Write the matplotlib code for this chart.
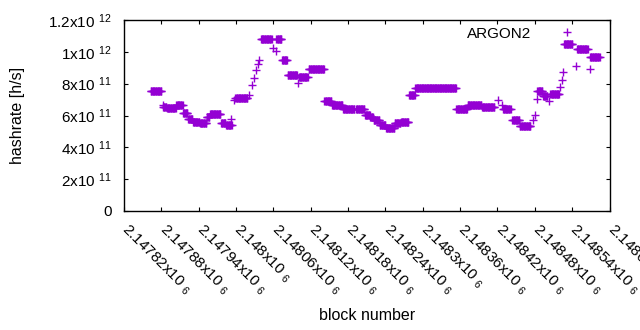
import numpy as np
import matplotlib
matplotlib.use('Agg')
import matplotlib.pyplot as plt
from matplotlib.ticker import FixedLocator, FixedFormatter

plt.rcParams['font.family'] = ['Liberation Sans', 'DejaVu Sans']
plt.rcParams['mathtext.fontset'] = 'custom'
plt.rcParams['mathtext.rm'] = 'Liberation Sans'
plt.rcParams['mathtext.default'] = 'regular'

# -----------------------------------------------------------------------
# Data (hashrate in units of 1e11 h/s)
# runs: consecutive blocks with the same hashrate [start, end)
# -----------------------------------------------------------------------
RUN_START = [2147863, 2147883, 2147889, 2147904, 2147915, 2147923, 2147931,
             2147942, 2147953, 2147958, 2147976, 2147984, 2147999, 2148040,
             2148065, 2148074, 2148083, 2148101, 2148117, 2148142, 2148154,
             2148172, 2148193, 2148207, 2148216, 2148221, 2148231, 2148241,
             2148255, 2148265, 2148278, 2148288, 2148354, 2148372, 2148395,
             2148429, 2148444, 2148456, 2148484, 2148493, 2148505, 2148527,
             2148548, 2148569]
RUN_END = [2147881, 2147889, 2147904, 2147915, 2147923, 2147931, 2147942,
           2147953, 2147958, 2147976, 2147984, 2147994, 2148019, 2148058,
           2148074, 2148083, 2148099, 2148116, 2148142, 2148154, 2148172,
           2148191, 2148207, 2148216, 2148221, 2148231, 2148241, 2148255,
           2148265, 2148278, 2148288, 2148354, 2148372, 2148395, 2148416,
           2148442, 2148456, 2148474, 2148493, 2148501, 2148520, 2148541,
           2148566, 2148585]
RUN_HASH = [7.56, 6.53, 6.45, 6.64, 6.14, 5.75, 5.60,
            5.50, 5.90, 6.12, 5.50, 5.38, 7.12, 10.81,
            10.81, 9.50, 8.52, 8.41, 8.94, 6.89, 6.68,
            6.43, 6.39, 6.01, 5.90, 5.70, 5.43, 5.22,
            5.55, 5.59, 7.26, 7.75, 6.43, 6.64, 6.53,
            6.43, 5.74, 5.32, 7.51, 7.22, 7.37, 10.50,
            10.19, 9.66]

# single blocks
PT_BLOCK = [2147883, 2147992, 2147996, 2148021, 2148025, 2148029, 2148032,
            2148035, 2148037, 2148060, 2148064, 2148100, 2148421, 2148427,
            2148477, 2148480, 2148483, 2148503, 2148521, 2148523, 2148526,
            2148546, 2148569]
PT_HASH = [6.68, 5.80, 6.95, 7.26, 7.90, 8.37, 8.83,
           9.25, 9.50, 10.25, 10.08, 8.06, 6.95, 6.64,
           5.70, 6.01, 7.06, 6.89, 7.78, 8.20, 8.72,
           9.08, 8.93]

X_TICKS = list(range(2147820, 2148601, 60))
Y_TICKS = [0, 2e11, 4e11, 6e11, 8e11, 1e12, 1.2e12]
Y_LABELS = ['0', '2x10 $^{11}$', '4x10 $^{11}$', '6x10 $^{11}$',
            '8x10 $^{11}$', '1x10 $^{12}$', '1.2x10 $^{12}$']

PURPLE = '#9400d3'

# expand runs into per-block points
bx, by = [], []
for s, e, h in zip(RUN_START, RUN_END, RUN_HASH):
    blocks = np.arange(s, e)
    bx.extend(blocks)
    by.extend([h * 1e11] * len(blocks))
bx.extend(PT_BLOCK)
by.extend([h * 1e11 for h in PT_HASH])

fig = plt.figure(figsize=(6.4, 3.3), dpi=100)
ax = fig.add_axes([124 / 640, 1 - 211 / 330, 485.5 / 640, 191 / 330])

ax.plot(bx, by, ls='none', marker='+', ms=5.2, mew=1.0, color=PURPLE,
        label='ARGON2')

ax.set_xlim(X_TICKS[0], X_TICKS[-1])
ax.set_ylim(0, 1.2e12)

ax.xaxis.set_major_locator(FixedLocator(X_TICKS))
ax.xaxis.set_major_formatter(FixedFormatter(
    ['%gx10 $_{6}$' % (t / 1e6) for t in X_TICKS]))
ax.yaxis.set_major_locator(FixedLocator(Y_TICKS))
ax.yaxis.set_major_formatter(FixedFormatter(Y_LABELS))

ax.tick_params(direction='in', length=3.0, width=0.8, top=True, right=True,
               labelsize=11)
ax.tick_params(axis='y', pad=9)
ax.tick_params(axis='x', pad=12)
for lbl in ax.get_xticklabels():
    lbl.set_rotation(-45)
    lbl.set_ha('left')
    lbl.set_va('center')
    lbl.set_rotation_mode('anchor')
for sp in ax.spines.values():
    sp.set_linewidth(1.0)

ax.set_xlabel('block number', fontsize=11.5)
ax.set_ylabel('hashrate [h/s]', fontsize=11.5)
ax.xaxis.set_label_coords(0.5, -0.508)
ax.yaxis.set_label_coords(-0.204, 0.5)

ax.legend(loc='upper right', frameon=False, markerfirst=False, fontsize=11,
          handlelength=4.0, handletextpad=0.33, borderaxespad=0.0,
          bbox_to_anchor=(0.987, 0.997))

fig.savefig('out.png', dpi=100)
